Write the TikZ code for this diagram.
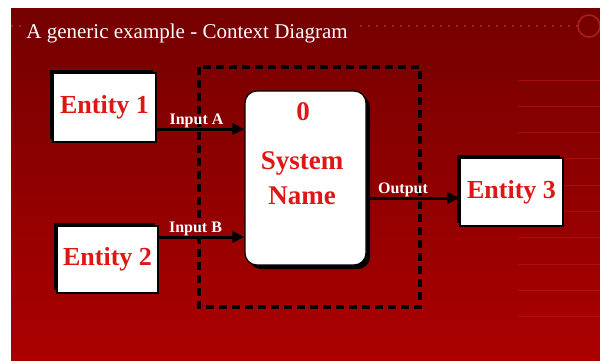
\documentclass[tikz,border=0pt]{standalone}
\usepackage{fontspec}
\setmainfont{Liberation Serif}
\usetikzlibrary{arrows.meta,shadows}
\definecolor{bgtop}{RGB}{116,0,0}
\definecolor{bgbot}{RGB}{172,0,0}
\definecolor{entred}{RGB}{222,22,22}
\definecolor{decor}{RGB}{176,28,28}
\definecolor{faint}{RGB}{190,24,24}

\begin{document}
\begin{tikzpicture}[x=0.5pt,y=-0.5pt,
  ent/.style={draw=black,fill=white,line width=0.6pt,inner sep=0pt,
    minimum width=51.5pt,minimum height=34.5pt,text=entred,
    font=\bfseries\fontsize{13}{15}\selectfont,
    general shadow={fill=black,shadow xshift=-1.75pt,shadow yshift=1.75pt}},
  sysbox/.style={draw=black,fill=white,line width=0.6pt,rounded corners=6pt,
    minimum width=60.5pt,minimum height=87pt,
    general shadow={fill=black,shadow xshift=2pt,shadow yshift=-2pt}},
  systxt/.style={text=entred,inner sep=0pt,font=\bfseries\fontsize{13.5}{15}\selectfont},
  flow/.style={line width=1.5pt,-{Triangle[length=6pt,width=5.5pt]}},
  lbl/.style={text=white,inner sep=0pt,font=\bfseries\fontsize{8}{9}\selectfont}]
\useasboundingbox (0,0) rectangle (600,360);
\shade[top color=bgtop,bottom color=bgbot] (11,8) rectangle (600,360);
% title bar
\draw[decor,line width=1.2pt,dash pattern=on 1pt off 3pt] (11,26) -- (22,26) (360,26) -- (578,26);
\draw[decor,line width=0.8pt] (589,26) circle [radius=5.5pt];
\foreach \i in {0,...,9}
  \draw[faint,opacity=0.6,line width=0.5pt] (518,{80+26.3*\i}) -- (600,{80+26.3*\i});
\node[anchor=base west,text=white,inner sep=0pt,font=\fontsize{10.5}{12}\selectfont] (title) at (26,38) {A generic example - Context Diagram};
% system boundary
\draw[line width=1.6pt,dash pattern=on 4pt off 2.5pt] (199,67) rectangle (420,307);
% process and entities
\node[sysbox] (sys) at (305.5,178) {};
\node[systxt] (num) at (303,112) {0};
\node[systxt] (sysa) at (302,163) {System};
\node[systxt] (sysb) at (302,196) {Name};
\node[ent] (e1) at (104.5,107.5) {Entity 1};
\node[ent,minimum width=50.5pt,minimum height=33.5pt] (e2) at (107.5,259.5) {Entity 2};
\node[ent,minimum height=34pt] (e3) at (511.5,192) {Entity 3};
% flows
\draw[flow] ([yshift=-10.75pt]e1.east) coordinate (ina) -- (ina -| sys.west) node[lbl,midway,above,xshift=-2pt] {Input A};
\draw[flow] ([yshift=11.25pt]e2.east) coordinate (inb) -- (inb -| sys.west) node[lbl,midway,above,xshift=-3pt] {Input B};
\draw[flow] ([yshift=-10pt]sys.east) coordinate (out) -- (out -| e3.west) node[lbl,midway,above,xshift=-5pt] {Output};
\end{tikzpicture}
\end{document}
